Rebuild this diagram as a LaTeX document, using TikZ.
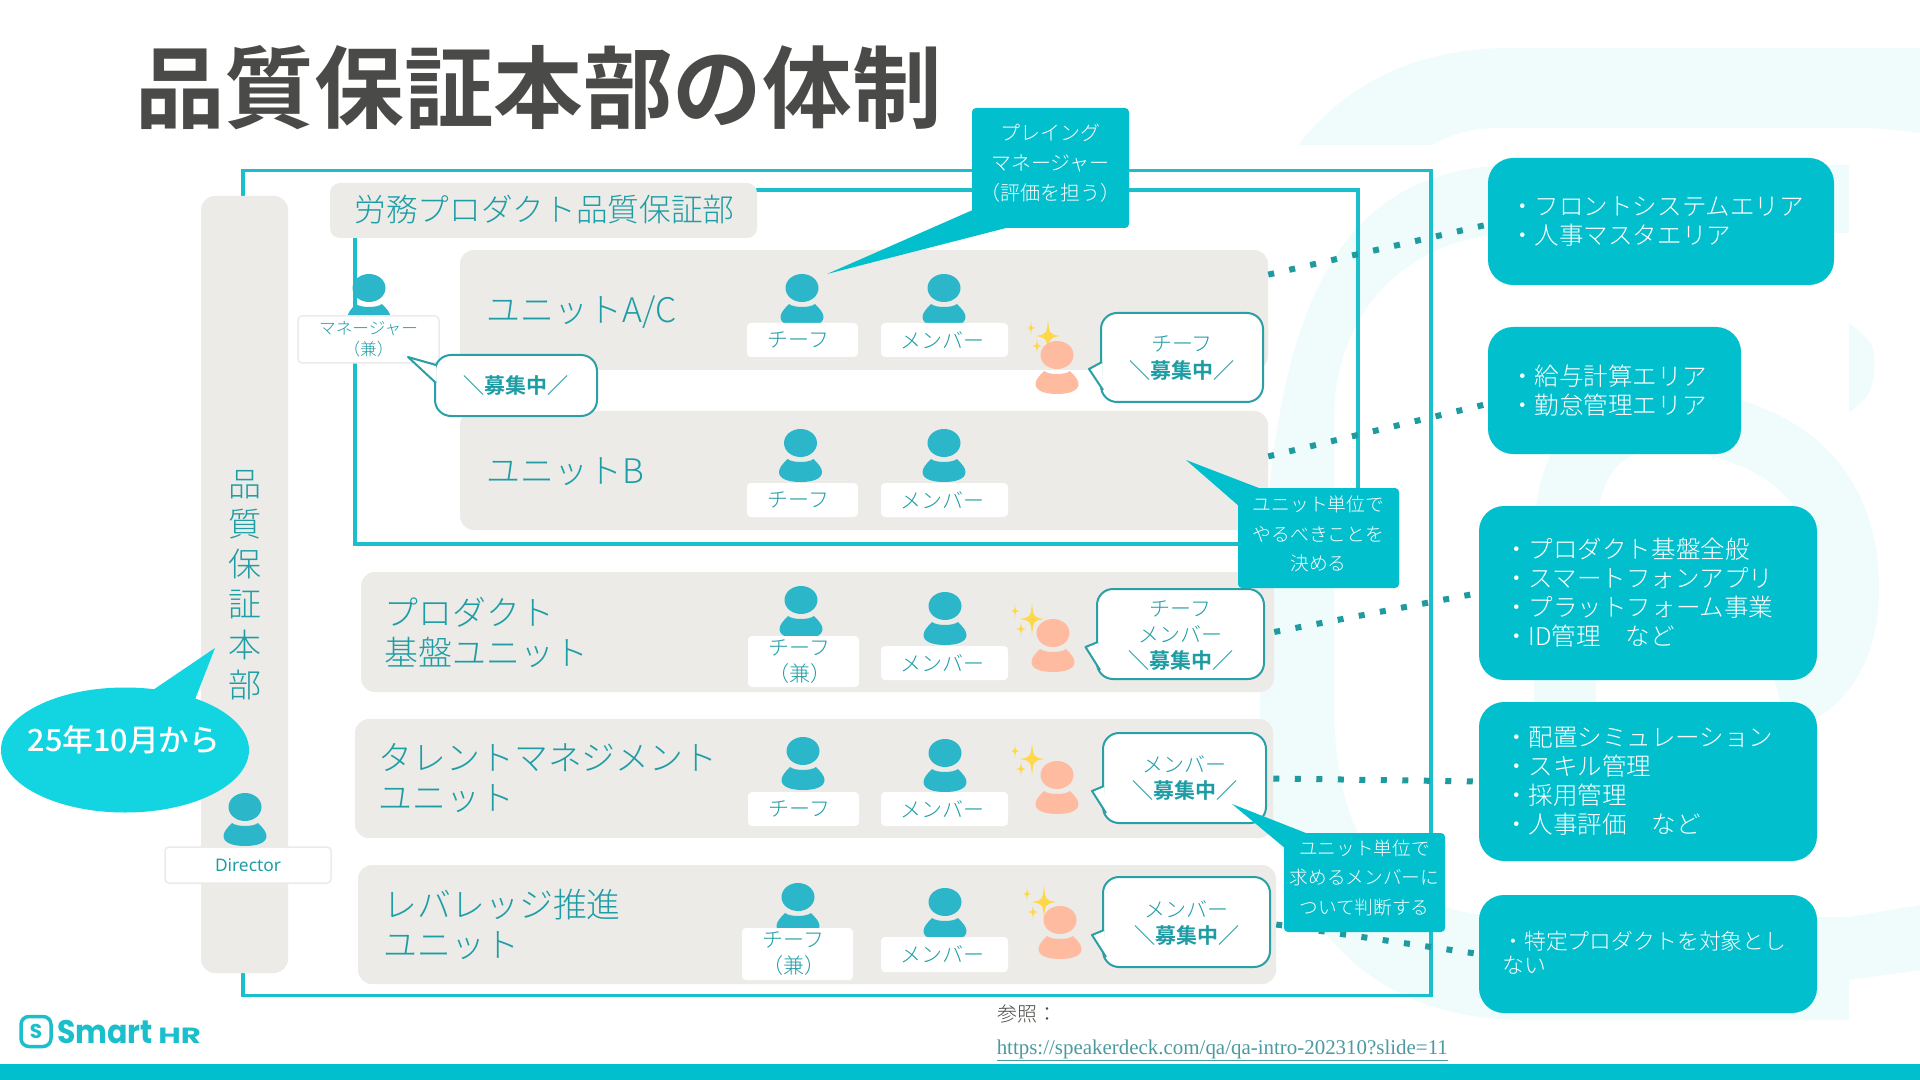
\documentclass[tikz,border=0pt]{standalone}
\usepackage{fontspec}
\setmainfont{Noto Sans CJK JP}[UprightFont={* Light},BoldFont={* Bold}]
\newfontfamily\regularfont{Noto Sans CJK JP Medium}
\newfontfamily\latinfont{Noto Sans}
\newfontfamily\logofont{Poppins}
\newfontfamily\linkfont{Liberation Serif}
\usepackage{tikz}
\usetikzlibrary{shapes.geometric}
\definecolor{frameteal}{HTML}{1ABFCB}
\definecolor{calloutteal}{HTML}{01BFCC}
\definecolor{ovalteal}{HTML}{13D5E1}
\definecolor{personteal}{HTML}{2BB7C9}
\definecolor{textteal}{HTML}{1F9DA5}
\definecolor{boldteal}{HTML}{1E9CA3}
\definecolor{bubbleline}{HTML}{2A9FA5}
\definecolor{dotteal}{HTML}{1F9A9E}
\definecolor{panelgrey}{HTML}{ECEBE7}
\definecolor{peach}{HTML}{FFBBA0}
\definecolor{titlegrey}{HTML}{4A4A48}
\definecolor{paleteal}{HTML}{F0FBFC}
\definecolor{starlight}{HTML}{FFD84A}
\definecolor{linkteal}{HTML}{4A9AA0}
\def\px{0.75pt}
\tikzset{
  panel/.style={fill=panelgrey,rounded corners=14*\px,inner sep=0pt},
  unitname/.style={text=textteal,anchor=west,align=left,font=\fontsize{25.4}{30}\selectfont},
  rolebox/.style={fill=white,rounded corners=4*\px,inner sep=0pt,text=textteal,align=center,font=\fontsize{15.75}{19.5}\selectfont},
  bubblebox/.style={draw=bubbleline,line width=2*\px,fill=white,rounded corners=16*\px,inner sep=0pt},
  bubbletext/.style={text=textteal,align=center,inner sep=0pt,font=\fontsize{15.75}{20}\selectfont},
  bubbletail/.style={draw=bubbleline,line width=2*\px,fill=white,line join=round},
  callbox/.style={fill=calloutteal,rounded corners=4*\px,inner sep=0pt},
  calltext/.style={text=white,align=center,inner sep=0pt},
  areabox/.style={fill=calloutteal,rounded corners=25*\px,inner sep=0pt},
  areatext/.style={text=white,anchor=west,align=left,inner sep=0pt,font=\fontsize{18.4}{21.8}\selectfont},
  dotline/.style={dotteal,line width=6*\px,dash pattern=on 6*\px off 15.5*\px},
}
\newcommand{\Person}[3]{%
  \fill[#3,shift={(#1,#2)}] (0,0) ellipse [x radius=16.5,y radius=14];
  \fill[#3,shift={(#1,#2)}] (-13,16) .. controls (-18,21) and (-21.5,25) .. (-21.5,29) .. controls (-21.5,36) and (-12,39) .. (0,39) .. controls (12,39) and (21.5,36) .. (21.5,29) .. controls (21.5,25) and (18,21) .. (13,16) .. controls (8,20) and (-8,20) .. (-13,16) -- cycle;}
\newcommand{\StarShape}[4]{%
  \fill[starlight,shift={(#1,#2)},xscale=#3,yscale=#4] (-1,0) .. controls (-.12,-.12) .. (0,-1) .. controls (.12,-.12) .. (1,0) .. controls (.12,.12) .. (0,1) .. controls (-.12,.12) .. (-1,0) -- cycle;}
\newcommand{\Sparkles}[2]{%
  \StarShape{#1-17}{#2-8}{4}{7}
  \StarShape{#1-11}{#2+10}{5}{7}
  \StarShape{#1}{#2}{12}{16}}
\newcommand{\Boshu}{\textcolor{boldteal}{\bfseries ＼募集中／}}
\newcommand{\ChiefName}{チーフ\kern6pt}
\newcommand{\MemberName}{メンバー\kern2.5pt}
\newcommand{\DoubleRole}{（兼）\kern6pt}
\begin{document}
\begin{tikzpicture}[x=0.75pt,y=-0.75pt]
  \useasboundingbox (0,0) rectangle (1920,1080);
  \fill[white] (0,0) rectangle (1920,1080);

  % Pale logo behind everything
  \fill[paleteal] (1298,145) .. controls (1350,80) and (1420,48) .. (1512,48) -- (1920,48) -- (1920,133) .. controls (1880,128) .. (1850,128) -- (1496,128) .. controls (1470,128) and (1450,135) .. (1432,145) -- cycle;
  \fill[paleteal] (1849,165) -- (1520,165) .. controls (1320,165) and (1260,330) .. (1260,700) .. controls (1260,900) and (1350,1017) .. (1520,1020) -- (1849,1020) -- (1849,980) -- (1920,970) -- (1920,905) -- (1849,917) -- (1520,917) .. controls (1390,917) and (1334,850) .. (1334,700) -- (1334,420) .. controls (1334,300) and (1420,233) .. (1520,233) -- (1849,233) -- cycle;
  \draw[paleteal,line width=62*\px] (1565,720) -- (1565,540) .. controls (1565,440) and (1620,410) .. (1690,420) .. controls (1780,435) and (1848,480) .. (1848,590) .. controls (1848,650) and (1820,690) .. (1780,700);
  \fill[paleteal] (1849,323) .. controls (1875,345) .. (1874,373) .. controls (1870,395) .. (1849,413) -- cycle;

  % Title
  \node[font=\fontsize{67.2}{70}\selectfont\bfseries,text=titlegrey,anchor=west,inner sep=0pt] (title) at (135,88) {品質保証本部の体制};

  % Frames
  \node[draw=frameteal,line width=3.5*\px,minimum width=1188*\px,minimum height=825*\px,inner sep=0pt] (outerframe) at (837,583) {};
  \node[draw=frameteal,line width=3.5*\px,minimum width=1003*\px,minimum height=354*\px,inner sep=0pt] (innerframe) at (856.5,367) {};

  % Headquarters bar
  \node[panel,minimum width=87*\px,minimum height=777*\px] (hqbar) at (244.5,584.5) {};
  \node[text=textteal,align=center,font=\fontsize{24.75}{30.2}\selectfont] (hqname) at (245,585) {品\\質\\保\\証\\本\\部};

  % Unit panels
  \node[panel,minimum width=427*\px,minimum height=55*\px,rounded corners=10*\px] (deptlabel) at (543.5,210.5) {};
  \node[text=textteal,font=\fontsize{23.75}{30}\selectfont] (deptname) at (544.5,210) {労務プロダクト品質保証部};
  \node[panel,minimum width=808*\px,minimum height=120*\px] (unitAC) at (864,310) {};
  \node[panel,minimum width=808*\px,minimum height=119*\px] (unitB) at (864,470.5) {};
  \node[panel,minimum width=913*\px,minimum height=120*\px] (unitBase) at (817.5,632) {};
  \node[panel,minimum width=918*\px,minimum height=119*\px] (unitTalent) at (814,778.5) {};
  \node[panel,minimum width=918*\px,minimum height=119*\px] (unitLeverage) at (817,924.5) {};
  \node[unitname] (nameAC) at (482,312.5) {ユニットA/C};
  \node[unitname] (nameB) at (482,471.5) {ユニットB};
  \node[unitname] (nameBase) at (380,632) {プロダクト\\基盤ユニット};
  \node[unitname] (nameTalent) at (374,778) {タレントマネジメント\\ユニット};
  \node[unitname] (nameLeverage) at (379,924) {レバレッジ推進\\ユニット};

  % Area boxes
  \node[areabox,minimum width=346*\px,minimum height=127*\px] (areaAC) at (1661,221.5) {};
  \node[areabox,minimum width=253*\px,minimum height=127*\px] (areaB) at (1614.5,390.5) {};
  \node[areabox,minimum width=338*\px,minimum height=174*\px] (areaBase) at (1648,593) {};
  \node[areabox,minimum width=338*\px,minimum height=159*\px] (areaTalent) at (1648,781.5) {};
  \node[areabox,minimum width=338*\px,minimum height=118*\px] (areaLeverage) at (1648,954) {};
  \node[areatext] (textAC) at (1510,221.5) {・フロントシステムエリア\\・人事マスタエリア};
  \node[areatext] (textB) at (1510,390.5) {・給与計算エリア\\・勤怠管理エリア};
  \node[areatext] (textBase) at (1504,592.5) {・プロダクト基盤全般\\・スマートフォンアプリ\\・プラットフォーム事業\\・ID管理　など};
  \node[areatext] (textTalent) at (1504,781.5) {・配置シミュレーション\\・スキル管理\\・採用管理\\・人事評価　など};
  \node[areatext,font=\fontsize{16.4}{18.2}\selectfont] (textLeverage) at (1502,952.5) {・特定プロダクトを対象とし\\ない};

  % Dotted links
  \draw[dotline] (unitAC.5.1) -- (areaAC.181);
  \draw[dotline] (unitB.2) -- (areaB.186);
  \draw[dotline] (unitBase.0) -- (areaBase.180);
  \draw[dotline] (unitTalent.0) -- (areaTalent.180);
  \draw[dotline] (unitLeverage.0) -- (areaLeverage.180);

  % People
  \Person{369}{288}{personteal}
  \node[rolebox,draw=panelgrey,line width=1.5*\px,minimum width=141*\px,minimum height=47*\px,font=\fontsize{12.5}{15.5}\selectfont] (roleManager) at (368.5,339.5) {マネージャー\\（兼）};
  \Person{802}{288}{personteal}
  \node[rolebox,minimum width=111*\px,minimum height=34*\px] (roleChiefAC) at (802.5,340) {\ChiefName};
  \Person{944}{288}{personteal}
  \node[rolebox,minimum width=127*\px,minimum height=34*\px] (roleMemberAC) at (944.5,340) {\MemberName};
  \Person{800.5}{443}{personteal}
  \node[rolebox,minimum width=111*\px,minimum height=34*\px] (roleChiefB) at (802.5,500) {\ChiefName};
  \Person{944}{443}{personteal}
  \node[rolebox,minimum width=127*\px,minimum height=34*\px] (roleMemberB) at (944.5,500) {\MemberName};
  \Person{801}{600}{personteal}
  \node[rolebox,minimum width=111*\px,minimum height=51*\px] (roleChiefBase) at (803.5,661.5) {\ChiefName\\\DoubleRole};
  \Person{945}{606}{personteal}
  \node[rolebox,minimum width=127*\px,minimum height=34*\px] (roleMemberBase) at (944.5,663) {\MemberName};
  \Person{803}{751}{personteal}
  \node[rolebox,minimum width=111*\px,minimum height=34*\px] (roleChiefTalent) at (803.5,809) {\ChiefName};
  \Person{945}{753}{personteal}
  \node[rolebox,minimum width=127*\px,minimum height=34*\px] (roleMemberTalent) at (944.5,809) {\MemberName};
  \Person{798}{897}{personteal}
  \node[rolebox,minimum width=111*\px,minimum height=52*\px] (roleChiefLeverage) at (797.5,954) {\ChiefName\\\DoubleRole};
  \Person{945}{902}{personteal}
  \node[rolebox,minimum width=127*\px,minimum height=35*\px] (roleMemberLeverage) at (944.5,954.5) {\MemberName};
  \Person{245}{807}{personteal}
  \node[rolebox,draw=panelgrey,line width=1.5*\px,minimum width=166*\px,minimum height=36*\px,font=\latinfont\fontsize{13}{16}\selectfont] (roleDirector) at (248,865) {Director};

  % Open posts
  \Sparkles{1048}{336}
  \Person{1057}{355}{peach}
  \Sparkles{1032}{619}
  \Person{1053}{633}{peach}
  \Sparkles{1032}{759}
  \Person{1057}{775}{peach}
  \Sparkles{1044}{902}
  \Person{1060}{920}{peach}

  % Bubbles
  \node[bubblebox,minimum width=162*\px,minimum height=61*\px] (bubbleManager) at (516,385.5) {};
  \draw[bubbletail] (436,365) -- (408,357) -- (436,383);
  \node[bubbletext] (wantManager) at (516,385.5) {\Boshu};
  \node[bubblebox,minimum width=162*\px,minimum height=89*\px] (bubbleAC) at (1182,357.5) {};
  \draw[bubbletail] (1102,362) -- (1089,369) -- (1103,390);
  \node[bubbletext] (wantAC) at (1182,358) {チーフ\\\Boshu};
  \node[bubblebox,minimum width=167*\px,minimum height=90*\px] (bubbleBase) at (1180.5,634) {};
  \draw[bubbletail] (1098,642) -- (1085.5,647) -- (1100,670);
  \node[bubbletext,font=\fontsize{15.75}{19.5}\selectfont] (wantBase) at (1180.5,635.5) {チーフ\\メンバー\\\Boshu};
  \node[bubblebox,minimum width=163*\px,minimum height=90*\px] (bubbleTalent) at (1184.5,778) {};
  \draw[bubbletail] (1104,786) -- (1092,791) -- (1106,813);
  \node[bubbletext] (wantTalent) at (1184.5,778) {メンバー\\\Boshu};
  \node[bubblebox,minimum width=167*\px,minimum height=90*\px] (bubbleLeverage) at (1186.5,922) {};
  \draw[bubbletail] (1104,930) -- (1092,935) -- (1106,957);
  \node[bubbletext] (wantLeverage) at (1186.5,923) {メンバー\\\Boshu};

  % Callouts
  \fill[calloutteal] (827,274) -- (975,209) -- (1006,228) -- cycle;
  \node[callbox,minimum width=157*\px,minimum height=120*\px] (callPlaying) at (1050.5,168) {};
  \node[calltext,font=\fontsize{15}{22.5}\selectfont] (notePlaying) at (1050.5,163) {プレイング\\マネージャー\\（評価を担う）};
  \fill[calloutteal] (1186,460) -- (1264,490) -- (1240,507) -- cycle;
  \node[callbox,minimum width=161*\px,minimum height=100*\px] (callTodo) at (1318.5,538) {};
  \node[calltext,font=\fontsize{14.1}{22}\selectfont] (noteTodo) at (1318.5,534) {ユニット単位で\\やるべきことを\\決める};
  \fill[calloutteal] (1232,804) -- (1311,835) -- (1286,849) -- cycle;
  \node[callbox,minimum width=161*\px,minimum height=99*\px] (callMember) at (1364.5,882.5) {};
  \node[calltext,font=\fontsize{14}{22}\selectfont] (noteMember) at (1364.5,878) {ユニット単位で\\求めるメンバーに\\ついて判断する};

  % Oval
  \fill[ovalteal] (215,648) -- (150,692) -- (194,702) -- cycle;
  \node[ellipse,fill=ovalteal,minimum width=248*\px,minimum height=125*\px,inner sep=0pt] (ovalDate) at (125,750) {};
  \node[text=white,font=\regularfont\fontsize{23}{26}\selectfont] (dateText) at (124,740) {25年10月から};

  % Logo and reference
  \node[draw=frameteal,line width=3.5*\px,rounded corners=8*\px,minimum width=30*\px,minimum height=30*\px,inner sep=0pt,text=frameteal,font=\logofont\bfseries\fontsize{15}{15}\selectfont] (logoMark) at (36,1031.5) {S};
  \node[text=frameteal,anchor=base west,inner sep=0pt,font=\logofont\bfseries\fontsize{24.5}{26}\selectfont] (logoSmart) at (57,1043) {\scalebox{0.92}[1]{Smart}};
  \node[text=frameteal,anchor=base west,inner sep=0pt,font=\logofont\bfseries\fontsize{16.5}{17}\selectfont] (logoHR) at (158,1043) {\scalebox{1.4}[1]{HR}};
  \node[anchor=west,inner sep=0pt,text=titlegrey,font=\fontsize{15}{18}\selectfont] (refLabel) at (997,1014) {参照：};
  \node[anchor=west,inner sep=0pt,text=linkteal,font=\linkfont\fontsize{15.7}{18}\selectfont] (refLink) at (996.5,1050.5) {\underline{https://speakerdeck.com/qa/qa-intro-202310?slide=11}};

  % Bottom band
  \fill[calloutteal] (0,1064) rectangle (1920,1080);
\end{tikzpicture}
\end{document}
